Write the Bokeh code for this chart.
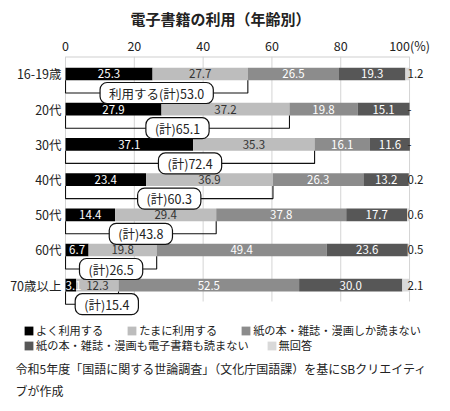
from bokeh.plotting import figure
from bokeh.models import Range1d, FixedTicker, ColumnDataSource, Legend, LegendItem, Label
from bokeh.core.properties import value
from bokeh.embed import file_html
from bokeh.resources import INLINE

# ---------------- data ----------------
ages = ["16-19歳", "20代", "30代", "40代", "50代", "60代", "70歳以上"]
often = [25.3, 27.9, 37.1, 23.4, 14.4, 6.7, 3.1]
sometimes = [27.7, 37.2, 35.3, 36.9, 29.4, 19.8, 12.3]
paper_only = [26.5, 19.8, 16.1, 26.3, 37.8, 49.4, 52.5]
neither = [19.3, 15.1, 11.6, 13.2, 17.7, 23.6, 30.0]
no_answer = [1.2, 0.0, 0.0, 0.2, 0.6, 0.5, 2.1]
no_answer_labels = ["1.2", "-", "-", "0.2", "0.6", "0.5", "2.1"]
user_totals = [53.0, 65.1, 72.4, 60.3, 43.8, 26.5, 15.4]
total_labels = ["利用する(計)53.0", "(計)65.1", "(計)72.4", "(計)60.3",
                "(計)43.8", "(計)26.5", "(計)15.4"]
series_names = ["よく利用する", "たまに利用する", "紙の本・雑誌・漫画しか読まない",
                "紙の本・雑誌・漫画も電子書籍も読まない", "無回答"]
x_ticks = [0, 20, 40, 60, 80, 100]
x_tick_labels = ["0", "20", "40", "60", "80", "100(%)"]
title_text = "電子書籍の利用（年齢別）"
source_lines = ["令和5年度「国語に関する世論調査」（文化庁国語課）を基にSBクリエイティ",
                "ブが作成"]

# ---------------- style ----------------
FONT_NAME = "Noto Sans CJK JP"
FONT = value(FONT_NAME)
colors = ["#000000", "#bdbdbd", "#8c8c8c", "#575757", "#d9d9d9"]
label_colors = ["#ffffff", "#333333", "#ffffff", "#ffffff"]
TXT = "#222222"
W, H = 440, 401
BAR_H = 0.36
Y_TOP = -0.497
Y_BOTTOM = 9.304
X_LEFT, X_RIGHT = -18.9, 109.0
GRID_END = 6.463
BRACKET_DY = 0.54

p = figure(width=W, height=H, output_backend="svg", toolbar_location=None,
           x_range=Range1d(X_LEFT, X_RIGHT), y_range=Range1d(Y_BOTTOM, Y_TOP),
           x_axis_location="above", y_axis_type=None,
           min_border_left=0, min_border_right=0, min_border_top=56, min_border_bottom=0)
p.outline_line_color = None
p.grid.visible = False

p.title.text = title_text
p.title.align = "center"
p.title.text_font = FONT_NAME
p.title.text_font_size = "15px"
p.title.text_font_style = "bold"
p.title.text_color = TXT
p.title.standoff = 8

xa = p.xaxis[0]
xa.ticker = FixedTicker(ticks=x_ticks)
xa.major_label_overrides = {t: s for t, s in zip(x_ticks, x_tick_labels)}
xa.axis_line_color = None
xa.major_tick_line_color = None
xa.minor_tick_line_color = None
xa.major_tick_out = 0
xa.major_tick_in = 0
xa.major_label_standoff = 2
xa.major_label_text_font = FONT_NAME
xa.major_label_text_font_size = "12.5px"
xa.major_label_text_color = TXT

ys = list(range(len(ages)))

# category labels
p.text(x=[0] * len(ages), y=ys, text=ages, x_offset=-4, text_align="right",
       text_baseline="middle", text_font=FONT, text_font_size="12.5px", text_color=TXT)

# grid lines and top border
p.segment(x0=x_ticks, y0=[Y_TOP] * len(x_ticks), x1=x_ticks, y1=[GRID_END] * len(x_ticks),
          line_color="#d4d4d4", line_width=1)
p.segment(x0=[x_ticks[0]], y0=[Y_TOP], x1=[x_ticks[-1]], y1=[Y_TOP],
          line_color="#cfcfcf", line_width=2)

keys = ["often", "sometimes", "paper_only", "neither", "no_answer"]
src = ColumnDataSource(dict(y=ys, often=often, sometimes=sometimes, paper_only=paper_only,
                            neither=neither, no_answer=no_answer))
rends = p.hbar_stack(keys, y="y", height=BAR_H, fill_color=colors, line_color=None, source=src)

series = [often, sometimes, paper_only, neither]
wide = dict(x=[], y=[], t=[], c=[])
narrow = dict(x=[], y=[], t=[], c=[])
for i in range(len(ages)):
    left = 0.0
    for k, vals in enumerate(series):
        v = vals[i]
        if v > 0:
            d = wide if v >= 4 else narrow
            d["x"].append(left + v / 2 if v >= 4 else left)
            d["y"].append(i)
            d["t"].append(f"{v:.1f}")
            d["c"].append(label_colors[k])
        left += v
p.text(x="x", y="y", text="t", text_color="c", source=ColumnDataSource(wide),
       text_align="center", text_baseline="middle", text_font=FONT, text_font_size="11.5px")
p.text(x="x", y="y", text="t", text_color="c", source=ColumnDataSource(narrow),
       text_align="left", text_baseline="middle", text_font=FONT, text_font_size="11.5px")

p.text(x=[100] * len(ages), y=ys, text=no_answer_labels, text_color=TXT, x_offset=-2,
       text_align="left", text_baseline="middle", text_font=FONT, text_font_size="11.5px")

bxs = [[0, 0, t, t] for t in user_totals]
bys = [[i + BAR_H / 2, i + BRACKET_DY, i + BRACKET_DY, i + BAR_H / 2] for i in ys]
p.multi_line(xs=bxs, ys=bys, line_color="#111111", line_width=1.1)

tx = [max(t / 2, 12.0) for t in user_totals]
p.text(x=tx, y=[i + BRACKET_DY for i in ys], text=total_labels, text_color=TXT,
       text_align="center", text_baseline="middle", text_font=FONT, text_font_size="12.5px",
       background_fill_color="white", border_line_color="#111111", border_line_width=1.2,
       border_radius=7, padding=(9, 1))


# ---------------- legend + source ----------------
def make_legend(idx, loc, spacing):
    leg = Legend(items=[LegendItem(label=series_names[k], renderers=[rends[k]]) for k in idx],
                 orientation="horizontal", location=loc, padding=0, margin=0, spacing=spacing,
                 glyph_width=11, glyph_height=11, label_standoff=2, label_height=16,
                 label_text_font=FONT_NAME, label_text_font_size="11.2px", label_text_color=TXT,
                 background_fill_alpha=0, border_line_alpha=0)
    p.add_layout(leg)


make_legend([0, 1, 2], (23, 63), 23)
make_legend([3, 4], (23, 48), 17)

for line, yy in zip(source_lines, [33, 11]):
    p.add_layout(Label(x=15, y=yy, x_units="screen", y_units="screen", text=line,
                       text_align="left", text_baseline="middle", text_font=FONT_NAME,
                       text_font_size="12px", text_color=TXT))

open("out.html", "w").write(file_html(p, INLINE))
